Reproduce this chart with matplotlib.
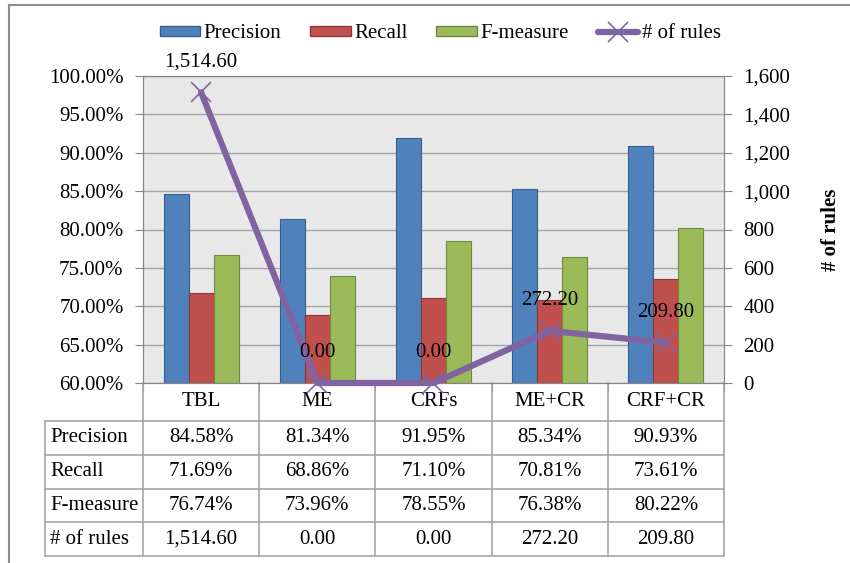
import matplotlib
matplotlib.use("Agg")
import matplotlib.pyplot as plt
from matplotlib.lines import Line2D
from matplotlib.patches import Patch
from matplotlib.ticker import FuncFormatter, MultipleLocator

plt.rcParams['font.family'] = ['Liberation Serif', 'DejaVu Serif']
plt.rcParams['font.size'] = 15

methods = ["TBL", "ME", "CRFs", "ME+CR", "CRF+CR"]
precision = [84.58, 81.34, 91.95, 85.34, 90.93]
recall = [71.69, 68.86, 71.10, 70.81, 73.61]
f_measure = [76.74, 73.96, 78.55, 76.38, 80.22]
n_rules = [1514.60, 0.00, 0.00, 272.20, 209.80]
row_names = ["Precision", "Recall", "F-measure", "# of rules"]

blue, red, green, purple = "#4F81BD", "#C0504D", "#9BBB59", "#8064A2"
grid_col = "#A6A6A6"

fig = plt.figure(figsize=(8.5, 5.63), dpi=100)
ax = fig.add_axes([143 / 850, 1 - 383 / 563, 581 / 850, 307 / 563])
ax.set_facecolor("#E8E8E8")

x = list(range(len(methods)))
w = 0.215
ax.bar([i - w for i in x], precision, w, color=blue, edgecolor="#385D8A", linewidth=0.8, zorder=2)
ax.bar(x, recall, w, color=red, edgecolor="#8C3836", linewidth=0.8, zorder=2)
ax.bar([i + w for i in x], f_measure, w, color=green, edgecolor="#71893F", linewidth=0.8, zorder=2)

ax.set_xlim(-0.5, len(methods) - 0.5)
ax.set_ylim(60, 100)
ax.yaxis.set_major_locator(MultipleLocator(5))
ax.yaxis.set_major_formatter(FuncFormatter(lambda v, p: f"{v:.2f}%"))
ax.grid(axis="y", color=grid_col, linewidth=1.0, zorder=0)
ax.set_xticks([i - 0.5 for i in range(len(methods) + 1)])
ax.set_xticklabels([])
ax.tick_params(axis="x", length=6, color="#868686", direction="out")
ax.tick_params(axis="y", length=6, color="#868686", pad=8)
for s in ax.spines.values():
    s.set_color("#868686")

ax2 = ax.twinx()
ax2.set_ylim(0, 1600)
ax2.yaxis.set_major_locator(MultipleLocator(200))
ax2.yaxis.set_major_formatter(FuncFormatter(lambda v, p: f"{v:,.0f}"))
ax2.tick_params(axis="y", length=6, color="#868686", pad=8)
for s in ax2.spines.values():
    s.set_color("#868686")
ax2.set_ylabel("# of rules", fontweight="bold", labelpad=22)
ax2.plot(x, n_rules, color=purple, linewidth=4.5, marker="x", markersize=14,
         markeredgewidth=1.2, solid_capstyle="round", zorder=3, clip_on=False)
for i, v in zip(x, n_rules):
    ax2.annotate(f"{v:,.2f}", (i, v), xytext=(0, 22), textcoords="offset points",
                 ha="center", va="center", annotation_clip=False)

# data table under the chart (x in category units, y in axes fraction)
tr = ax.get_xaxis_transform()
head_h = 38 / 307
row_h = 33.75 / 307
label_left = -0.5 - 98 / 116.2
tab = dict(transform=tr, color=grid_col, linewidth=1.2, clip_on=False)
bottom = -head_h - 4 * row_h
for k in range(len(methods) + 1):
    ax.plot([k - 0.5, k - 0.5], [0, bottom], **tab)
ax.plot([label_left, label_left], [-head_h, bottom], **tab)
for r in range(5):
    y = -head_h - r * row_h
    ax.plot([label_left, len(methods) - 0.5], [y, y], **tab)
for i, m in enumerate(methods):
    ax.text(i, -head_h / 2, m, transform=tr, ha="center", va="center")
rows = [[f"{v:.2f}%" for v in precision],
        [f"{v:.2f}%" for v in recall],
        [f"{v:.2f}%" for v in f_measure],
        [f"{v:,.2f}" for v in n_rules]]
for r, (name, vals) in enumerate(zip(row_names, rows)):
    yc = -head_h - (r + 0.5) * row_h
    ax.text(label_left + 0.045, yc, name, transform=tr, ha="left", va="center")
    for i, t in enumerate(vals):
        ax.text(i, yc, t, transform=tr, ha="center", va="center")

handles = [Patch(facecolor=blue, edgecolor="#385D8A"),
           Patch(facecolor=red, edgecolor="#8C3836"),
           Patch(facecolor=green, edgecolor="#71893F"),
           Line2D([], [], color=purple, linewidth=4.5, marker="x", markersize=14,
                  markeredgewidth=1.2, solid_capstyle="round")]
fig.legend(handles, row_names, loc="center", bbox_to_anchor=(440 / 850, 1 - 34 / 563),
           ncol=4, frameon=False, handlelength=1.95, handleheight=0.4,
           handletextpad=0.15, columnspacing=1.4, borderaxespad=0)

# outer frame lines
fig.add_artist(Line2D([9 / 850, 9 / 850], [0, 1 - 5 / 563], color="#8C8C8C", linewidth=1.5,
                      transform=fig.transFigure))
fig.add_artist(Line2D([9 / 850, 1], [1 - 5 / 563, 1 - 5 / 563], color="#8C8C8C", linewidth=1.5,
                      transform=fig.transFigure))

fig.savefig("out.png", dpi=100)
